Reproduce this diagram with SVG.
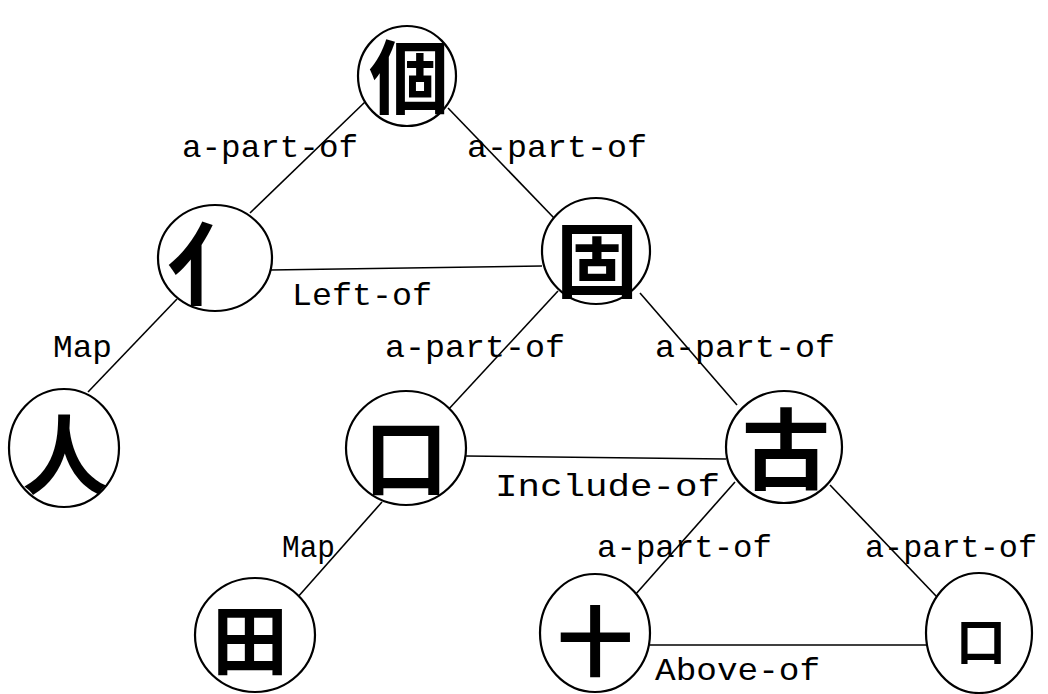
<svg xmlns="http://www.w3.org/2000/svg" width="1048" height="694" viewBox="0 0 1048 694">
<style>
.n ellipse{fill:#fff;stroke:#000;stroke-width:2.2}
.n text{font-family:"Noto Sans CJK TC","Noto Sans CJK JP",sans-serif;font-weight:700;fill:#000;text-anchor:middle;dominant-baseline:central}
.e line{stroke:#000;stroke-width:1.6}
.lb{font-family:"Liberation Mono","DejaVu Sans Mono",monospace;font-size:32px;fill:#000}
</style>
<rect width="1048" height="694" fill="#fff"/>
<g id="connectors" class="e">
<line x1="365" y1="102" x2="250" y2="213"/>
<line x1="448" y1="108" x2="554" y2="218"/>
<line x1="270" y1="270" x2="542" y2="266"/>
<line x1="177" y1="299" x2="88" y2="392"/>
<line x1="558" y1="291" x2="447" y2="411"/>
<line x1="640" y1="293" x2="737" y2="405"/>
<line x1="466" y1="456" x2="726" y2="459"/>
<line x1="382" y1="502" x2="297" y2="598"/>
<line x1="735" y1="482" x2="635" y2="595"/>
<line x1="830" y1="485" x2="937" y2="597"/>
<line x1="650" y1="645" x2="928" y2="645"/>
</g>
<g id="labels" class="lb">
<text x="182" y="157" textLength="176" lengthAdjust="spacingAndGlyphs">a-part-of</text>
<text x="467" y="157" textLength="180" lengthAdjust="spacingAndGlyphs">a-part-of</text>
<text x="292" y="305" textLength="140" lengthAdjust="spacingAndGlyphs">Left-of</text>
<text x="53" y="357" textLength="59" lengthAdjust="spacingAndGlyphs">Map</text>
<text x="385" y="357" textLength="180" lengthAdjust="spacingAndGlyphs">a-part-of</text>
<text x="655" y="357" textLength="180" lengthAdjust="spacingAndGlyphs">a-part-of</text>
<text x="495" y="496" textLength="225" lengthAdjust="spacingAndGlyphs">Include-of</text>
<text x="282" y="557" textLength="53" lengthAdjust="spacingAndGlyphs">Map</text>
<text x="597" y="557" textLength="175" lengthAdjust="spacingAndGlyphs">a-part-of</text>
<text x="865" y="557" textLength="172" lengthAdjust="spacingAndGlyphs">a-part-of</text>
<text x="655" y="680" textLength="165" lengthAdjust="spacingAndGlyphs">Above-of</text>
</g>
<g id="n-ge" class="n"><ellipse cx="407" cy="76" rx="49" ry="50"/><text x="409" y="72" font-size="80">個</text></g>
<g id="n-ren-radical" class="n"><ellipse cx="215" cy="258" rx="57" ry="53"/><text x="212" y="259" font-size="90">亻</text></g>
<g id="n-gu-enclosed" class="n"><ellipse cx="596" cy="251" rx="54" ry="53"/><text x="597" y="255" font-size="82">固</text></g>
<g id="n-ren" class="n"><ellipse cx="64" cy="448" rx="55" ry="59"/><text x="65" y="450" font-size="86">人</text></g>
<g id="n-kou" class="n"><ellipse cx="406" cy="448" rx="60" ry="57"/><text x="406" y="452" font-size="84">口</text></g>
<g id="n-gu" class="n"><ellipse cx="784" cy="447" rx="58" ry="56"/><text x="786" y="443" font-size="88">古</text></g>
<g id="n-tian" class="n"><ellipse cx="255" cy="635" rx="60" ry="57"/><text x="250" y="636" font-size="76">田</text></g>
<g id="n-shi" class="n"><ellipse cx="595" cy="633" rx="55" ry="59"/><text x="595" y="637" font-size="76">十</text></g>
<g id="n-kou-small" class="n"><ellipse cx="979" cy="633" rx="53" ry="60"/><text x="981" y="638" font-size="50">口</text></g>
</svg>
